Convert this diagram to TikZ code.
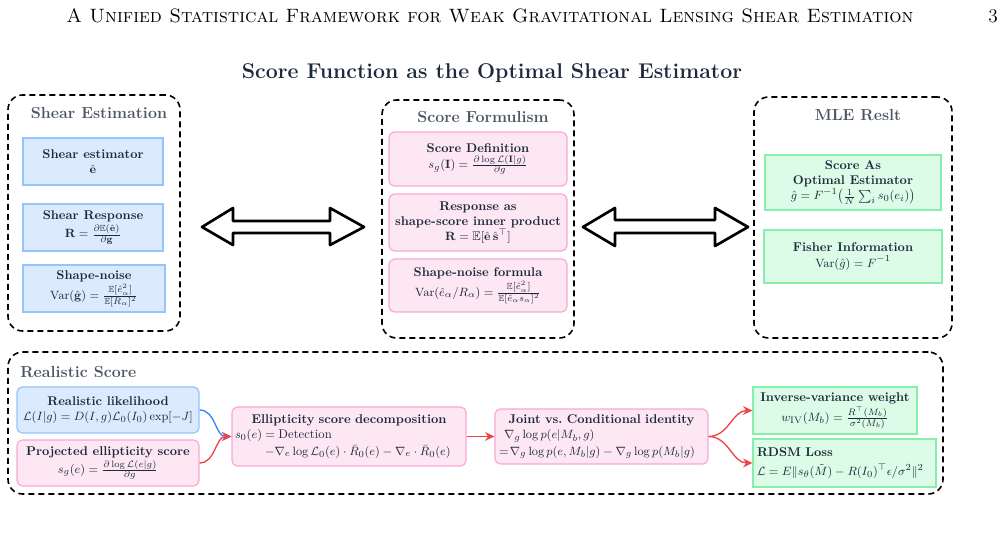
\documentclass[tikz,border=0pt]{standalone}
\usepackage{amsmath,amssymb}
\usetikzlibrary{arrows.meta}
\definecolor{bfill}{HTML}{DBEAFE}
\definecolor{bdraw}{HTML}{93C5FD}
\definecolor{pfill}{HTML}{FCE7F3}
\definecolor{pdraw}{HTML}{F9A8D4}
\definecolor{gfill}{HTML}{DCFCE7}
\definecolor{gdraw}{HTML}{86EFAC}
\definecolor{slate}{HTML}{4B5563}
\definecolor{ink}{HTML}{1E293B}
\definecolor{cblue}{HTML}{3B82F6}
\definecolor{cred}{HTML}{EF4444}
\newdimen\pxu \pxu=0.75pt
\begin{document}
\begin{tikzpicture}[x=0.75pt,y=-0.75pt,
  group/.style={draw=black, line width=1.2pt, dash pattern=on 4.5pt off 3pt, rounded corners=11pt, inner sep=0pt},
  gtitle/.style={font=\fontsize{12}{14}\selectfont\bfseries, text=slate, inner sep=0pt},
  box/.style={inner sep=1pt, align=center, font=\fontsize{9.5}{11.5}\selectfont, text=ink, line width=0.9pt},
  bluebox/.style={box, fill=bfill, draw=bdraw},
  bluerbox/.style={box, fill=bfill, draw=bdraw, rounded corners=4pt},
  pinkbox/.style={box, fill=pfill, draw=pdraw, rounded corners=4pt},
  greenbox/.style={box, fill=gfill, draw=gdraw},
  bigarrow/.style={draw=black, fill=white, line width=2pt, line join=round},
  conn/.style={line width=1pt, -{Stealth[length=7pt,width=6.5pt]}},
]
\useasboundingbox (0,0) rectangle (1004,534);

% header
\node[font=\fontsize{14.5}{16}\selectfont, inner sep=0pt] (hdr) at (490,16) {\textsc{A Unified Statistical Framework for Weak Gravitational Lensing Shear Estimation}};
\node[font=\fontsize{14.5}{16}\selectfont, inner sep=0pt] (pg) at (993,16) {3};

% title
\node[font=\fontsize{16}{18}\selectfont\bfseries, text=ink, inner sep=0pt] (title) at (492,73) {Score Function as the Optimal Shear Estimator};

% groups
\node[group, minimum width=172\pxu, minimum height=236\pxu] (G1) at (94,213) {};
\node[group, minimum width=192\pxu, minimum height=238\pxu] (G2) at (478,219) {};
\node[group, minimum width=198\pxu, minimum height=241\pxu] (G3) at (853,217.5) {};
\node[group, minimum width=935\pxu, minimum height=142\pxu] (G4) at (475.5,423) {};

\node[gtitle] (t1) at (99,113) {Shear Estimation};
\node[gtitle] (t2) at (483,117) {Score Formulism};
\node[gtitle] (t3) at (858,115) {MLE Reslt};
\node[gtitle, anchor=west] (t4) at (20,372) {Realistic Score};

% left column
\node[bluebox, minimum width=140\pxu, minimum height=47\pxu] (b1) at (93,161.5)
  {\textbf{Shear estimator}\\ $\hat{\mathbf e}$};
\node[bluebox, minimum width=140\pxu, minimum height=47\pxu] (b2) at (93,227.5)
  {\textbf{Shear Response}\\[1pt] $\mathbf R=\frac{\partial\mathbb E(\hat{\mathbf e})}{\partial\mathbf g}$};
\node[bluebox, minimum width=142\pxu, minimum height=47\pxu] (b3) at (94,288.5)
  {\textbf{Shape-noise}\\[1pt] $\mathrm{Var}(\hat{\mathbf g})=\frac{\mathbb E[\hat e_\alpha^2]}{\mathbb E[R_\alpha]^2}$};

% middle column
\node[pinkbox, minimum width=178\pxu, minimum height=54\pxu] (p1) at (478,159)
  {\textbf{Score Definition}\\[1pt] $s_g(\mathbf I)=\frac{\partial\log\mathcal L(\mathbf I|g)}{\partial g}$};
\node[pinkbox, minimum width=178\pxu, minimum height=57\pxu] (p2) at (478,222.5)
  {\textbf{Response as}\\ \textbf{shape-score inner product}\\ $\mathbf R=\mathbb E[\hat{\mathbf e}\,\hat{\mathbf s}^\top]$};
\node[pinkbox, minimum width=178\pxu, minimum height=53\pxu] (p3) at (478,285.5)
  {\textbf{Shape-noise formula}\\[1pt] $\mathrm{Var}(\hat e_\alpha/R_\alpha)=\frac{\mathbb E[\hat e_\alpha^2]}{\mathbb E[\hat e_\alpha s_\alpha]^2}$};

% right column
\node[greenbox, minimum width=176\pxu, minimum height=55\pxu] (r1) at (853,182.5)
  {\textbf{Score As}\\ \textbf{Optimal Estimator}\\ $\hat g=F^{-1}\big(\frac1N\sum_i s_0(e_i)\big)$};
\node[greenbox, minimum width=178\pxu, minimum height=53\pxu] (r2) at (853,256.5)
  {\textbf{Fisher Information}\\ $\mathrm{Var}(\hat g)=F^{-1}$};

% big double arrows
\draw[bigarrow] (202,227) -- (233,208) -- (233,221) -- (330,221) -- (330,208) -- (364,227)
  -- (330,245) -- (330,233) -- (233,233) -- (233,245) -- cycle;
\draw[bigarrow] (583,227) -- (615,208) -- (615,220) -- (715,220) -- (715,208) -- (748,227)
  -- (715,246) -- (715,233) -- (615,233) -- (615,246) -- cycle;

% bottom row
\node[bluerbox, minimum width=182\pxu, minimum height=46\pxu] (rl) at (108,410)
  {\textbf{Realistic likelihood}\\ $\mathcal L(I|g)=D(I,g)\mathcal L_0(I_0)\exp[-J]$};
\node[pinkbox, minimum width=182\pxu, minimum height=46\pxu] (pe) at (108,463)
  {\textbf{Projected ellipticity score}\\[1pt] $s_g(e)=\frac{\partial\log\mathcal L(e|g)}{\partial g}$};
\node[pinkbox, minimum width=234\pxu, minimum height=59\pxu, align=left, text width=228\pxu] (ed) at (349,436.5)
  {\makebox[\linewidth]{\textbf{Ellipticity score decomposition}}\\
   $s_0(e)=\text{Detection}$\\[1pt]
   \hspace*{30\pxu}$-\nabla_e\log\mathcal L_0(e)\cdot\bar R_0(e)-\nabla_e\cdot\bar R_0(e)$};
\node[pinkbox, minimum width=213\pxu, minimum height=55\pxu, align=left, text width=205\pxu] (jc) at (601.5,436.5)
  {\makebox[\linewidth]{\textbf{Joint vs.\ Conditional identity}}\\
   \hspace*{5\pxu}$\nabla_g\log p(e|M_b,g)$\\[1pt]
   $=\!\nabla_g\log p(e,M_b|g)-\nabla_g\log p(M_b|g)$};
\node[greenbox, minimum width=164\pxu, minimum height=47\pxu] (iv) at (835,410.5)
  {\textbf{Inverse-variance weight}\\[1pt] $w_{\mathrm{IV}}(M_b)=\frac{R^\top(M_b)}{\sigma^2(M_b)}$};
\node[greenbox, minimum width=183\pxu, minimum height=48\pxu, align=left, text width=175\pxu] (rd) at (844.5,463)
  {\textbf{RDSM Loss}\\[3pt] $\mathcal L=E\|s_\theta(\tilde M)-R(I_0)^\top\epsilon/\sigma^2\|^2$};

% connectors
\draw[conn, cblue] (rl.east) to[out=0,in=180] (ed.west);
\draw[conn, cred] (pe.east) to[out=0,in=180] (ed.west);
\draw[conn, cred] (ed.east) -- (jc.west);
\draw[conn, cred] (jc.east) to[out=0,in=180] (iv.west);
\draw[conn, cred] (jc.east) to[out=0,in=180] (rd.west);
\end{tikzpicture}
\end{document}
